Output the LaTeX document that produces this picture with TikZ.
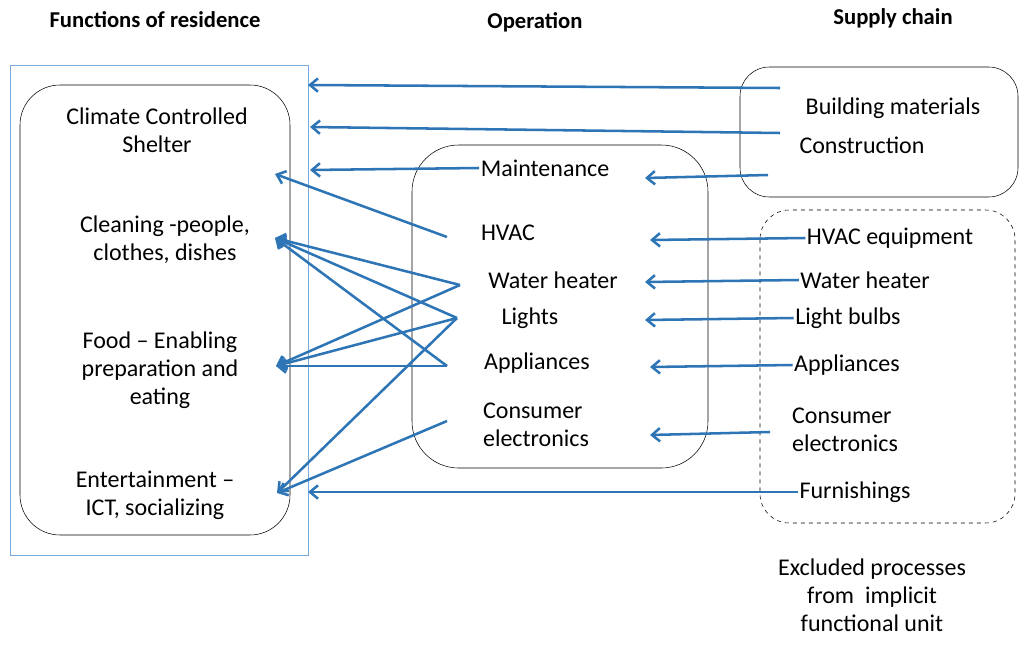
\documentclass[tikz,border=0pt]{standalone}
\usepackage{fontspec}
\setmainfont{Carlito}
\usetikzlibrary{arrows.meta,positioning}
\definecolor{arrowblue}{RGB}{46,117,182}
\definecolor{frameblue}{RGB}{120,170,220}

\begin{document}
\begin{tikzpicture}[x=0.75pt,y=-0.75pt,
  txt/.style={font=\fontsize{18}{21}\selectfont,align=center,inner sep=1pt},
  head/.style={font=\bfseries\fontsize{17}{20}\selectfont},
  flow/.style={draw=arrowblue,line width=1.9pt,-{Straight Barb[length=6pt,width=10pt]}},
  box/.style={draw,rounded corners=22pt,thin}]
\useasboundingbox (0,0) rectangle (1024,653);
% headings
\node[head] (hfun) at (155,20) {Functions of residence};
\node[head] (hop) at (535,22) {Operation};
\node[head] (hsup) at (893,18) {Supply chain};
% frames
\draw[frameblue,thin] (10,65) rectangle (308,555);
\draw[box,rounded corners=30pt] (20,85) rectangle (290,535);
\draw[box,rounded corners=35pt] (412,145) rectangle (708,468);
\draw[box] (740,67) rectangle (1018,197);
\draw[box,dashed] (760,210) rectangle (1015,523);
% functions
\node[txt] (climate) at (157,130) {Climate Controlled\\Shelter};
\node[txt] (clean) at (165,240) {Cleaning -people,\\clothes, dishes};
\node[txt] (food) at (160,370) {Food -- Enabling\\preparation and\\eating};
\node[txt] (ent) at (155,495) {Entertainment --\\ICT, socializing};
% operation
\node[txt] (maint) at (545,168) {Maintenance};
\node[txt] (hvac) at (508,233) {HVAC};
\node[txt] (wh) at (553,280) {Water heater};
\node[txt] (lights) at (530,318) {Lights};
\node[txt] (appl) at (537,363) {Appliances};
\node[txt,align=left] (ce) at (536,425) {Consumer\\electronics};
% supply chain
\node[txt] (bm) at (893,108) {Building materials};
\node[txt] (constr) at (862,145) {Construction};
\node[txt] (hvaceq) at (890,238) {HVAC equipment};
\node[txt] (whs) at (865,280) {Water heater};
\node[txt] (bulbs) at (848,318) {Light bulbs};
\node[txt] (appls) at (847,365) {Appliances};
\node[txt,align=left] (ces) at (845,430) {Consumer\\electronics};
\node[txt] (furn) at (855,492) {Furnishings};
\node[txt] (excl) at (872,595) {Excluded processes\\from~ implicit\\functional unit};
% anchor points
\coordinate (tClimate) at (275,174);
\coordinate (tClean) at (275,238);
\coordinate (tFood) at (276,366);
\coordinate (tEnt) at (277,493);
\coordinate (sHvac) at (447,237);
\coordinate (sWh) at (460,285);
\coordinate (sLights) at (457,318);
\coordinate (sAppl) at (447,366);
\coordinate (sCe) at (447,421);
% supply to residence
\draw[flow] (780,88) -- (308,85);
\draw[flow] (780,133) -- (310,127);
\draw[flow] (maint.west) -- (310,170);
\draw[flow] (furn.west) -- (308,492);
% supply to operation
\draw[flow] (768,175) -- (645,178);
\draw[flow] (hvaceq.west) -- (650,240);
\draw[flow] (whs.west) -- (645,282);
\draw[flow] (bulbs.west) -- (645,320);
\draw[flow] (appls.west) -- (650,367);
\draw[flow] (770,432) -- (650,435);
% operation to functions
\draw[flow] (sHvac) -- (tClimate);
\foreach \s in {sWh,sLights,sAppl} {
  \draw[flow] (\s) -- (tClean);
  \draw[flow] (\s) -- (tFood);
}
\draw[flow] (sLights) -- (tEnt);
\draw[flow] (sCe) -- (tEnt);
\end{tikzpicture}
\end{document}
